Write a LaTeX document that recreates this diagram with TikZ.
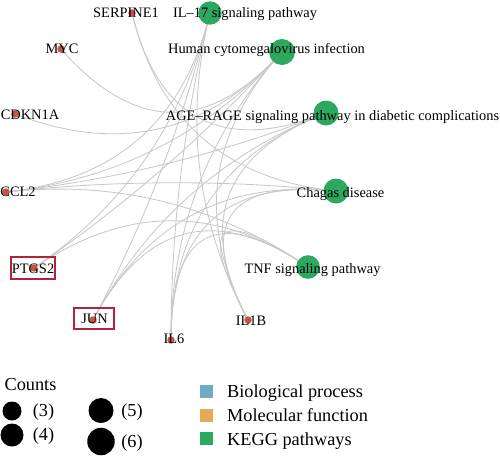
\documentclass[tikz,border=0pt]{standalone}
\usepackage{fontspec}
\setmainfont{Liberation Serif}
\usepackage{tikz}
\usetikzlibrary{calc, positioning, shapes.geometric}

\definecolor{genered}{RGB}{201,84,67}
\definecolor{keggreen}{RGB}{44,168,96}
\definecolor{edgegray}{RGB}{200,200,200}
\definecolor{boxred}{RGB}{178,34,58}
\definecolor{bpblue}{RGB}{108,172,196}
\definecolor{mforange}{RGB}{230,170,85}

\tikzset{
  edge/.style={draw=edgegray, line width=0.85pt},
  gene/.style={circle, fill=genered, inner sep=0pt, minimum size=7.5pt},
  kegg/.style={circle, fill=keggreen, inner sep=0pt},
  lbl/.style={anchor=base, inner sep=0pt, font=\fontsize{14.4}{17}\selectfont},
  hilite/.style={draw=boxred, line width=1.1pt, inner sep=0pt},
  legtxt/.style={anchor=base, inner sep=0pt, font=\fontsize{18.3}{21}\selectfont},
  legdot/.style={circle, fill=black, inner sep=0pt},
  legbox/.style={inner sep=0pt, minimum size=13pt}
}

\begin{document}
\begin{tikzpicture}[x=1pt, y=-1pt]
  \useasboundingbox (0,0) rectangle (500,456);
  % circle centre and node centres
  \coordinate (ctr) at (171,174);
  \coordinate (serpine) at (132,13);
  \coordinate (myc) at (61,49);
  \coordinate (cdkn) at (15,114);
  \coordinate (ccl) at (6,192);
  \coordinate (ptgs) at (34,268);
  \coordinate (jun) at (93,320);
  \coordinate (ilsix) at (171,340);
  \coordinate (ilob) at (248,320);
  \coordinate (ilsev) at (210,13);
  \coordinate (hcmv) at (282,52);
  \coordinate (age) at (326,113);
  \coordinate (chagas) at (336,191);
  \coordinate (tnf) at (308,267);

  % edges, bent towards the centre
  \foreach \g/\p in {ccl/ilsev, ccl/hcmv, ccl/age, ccl/chagas, ccl/tnf,
                     ptgs/ilsev, ptgs/hcmv, ptgs/tnf,
                     jun/ilsev, jun/age, jun/chagas, jun/tnf,
                     ilsix/ilsev, ilsix/hcmv, ilsix/age, ilsix/chagas, ilsix/tnf,
                     ilob/ilsev, ilob/hcmv, ilob/age, ilob/chagas, ilob/tnf,
                     serpine/age, serpine/chagas, myc/hcmv, cdkn/hcmv}
    \draw[edge] (\g) .. controls ($(\g)!0.667!(ctr)$) and ($(\p)!0.667!(ctr)$) .. (\p);

  % dots
  \foreach \g in {serpine, myc, cdkn, ccl, ptgs, jun, ilsix, ilob}
    \node[gene] (\g-dot) at (\g) {};
  \node[kegg, minimum size=23.4pt] (ilsev-dot) at (ilsev) {};
  \node[kegg, minimum size=26pt] (hcmv-dot) at (hcmv) {};
  \node[kegg, minimum size=25pt] (age-dot) at (age) {};
  \node[kegg, minimum size=25pt] (chagas-dot) at (chagas) {};
  \node[kegg, minimum size=23.6pt] (tnf-dot) at (tnf) {};

  % labels
  \node[lbl] (serpine-l) at (126,17.5) {SERPINE1};
  \node[lbl] (myc-l) at (62,53.5) {MYC};
  \node[lbl] (cdkn-l) at (30,119.5) {CDKN1A};
  \node[lbl] (ccl-l) at (18,196.5) {CCL2};
  \node[lbl] (ptgs-l) at (33,273) {PTGS2};
  \node[lbl] (jun-l) at (94.5,323.5) {JUN};
  \node[lbl] (ilsix-l) at (174,343.5) {IL6};
  \node[lbl] (ilob-l) at (251,325) {IL1B};
  \node[lbl] (ilsev-l) at (245,17) {IL--17 signaling pathway};
  \node[lbl] (hcmv-l) at (266.5,53.5) {Human cytomegalovirus infection};
  \node[lbl] (age-l) at (332.5,120) {AGE--RAGE signaling pathway in diabetic complications};
  \node[lbl] (chagas-l) at (340.5,197) {Chagas disease};
  \node[lbl] (tnf-l) at (312.5,273) {TNF signaling pathway};

  % highlighted genes
  \node[hilite, minimum width=44pt, minimum height=22pt] (ptgs-box) at (33,268) {};
  \node[hilite, minimum width=40pt, minimum height=21pt] (jun-box) at (94,318.5) {};

  % legend: counts
  \node[legtxt] (counts) at (30.5,390) {Counts};
  \node[legdot, minimum size=19pt] (c3) at (12,411) {};
  \node[legdot, minimum size=23pt] (c4) at (12,435) {};
  \node[legdot, minimum size=25pt] (c5) at (101,410.5) {};
  \node[legdot, minimum size=27.5pt] (c6) at (101,441.5) {};
  \node[legtxt] (c3-l) at (43.5,416.5) {(3)};
  \node[legtxt] (c4-l) at (43.5,440.5) {(4)};
  \node[legtxt] (c5-l) at (132,416) {(5)};
  \node[legtxt] (c6-l) at (132,447.5) {(6)};

  % legend: categories
  \node[legbox, fill=bpblue] (bp) at (206.5,391) {};
  \node[legbox, fill=mforange] (mf) at (206.5,415) {};
  \node[legbox, fill=keggreen] (kp) at (206.5,438.5) {};
  \node[legtxt, anchor=base west] (bp-l) at (227,397) {Biological process};
  \node[legtxt, anchor=base west] (mf-l) at (227,421.5) {Molecular function};
  \node[legtxt, anchor=base west] (kp-l) at (227,445) {KEGG pathways};
\end{tikzpicture}
\end{document}
